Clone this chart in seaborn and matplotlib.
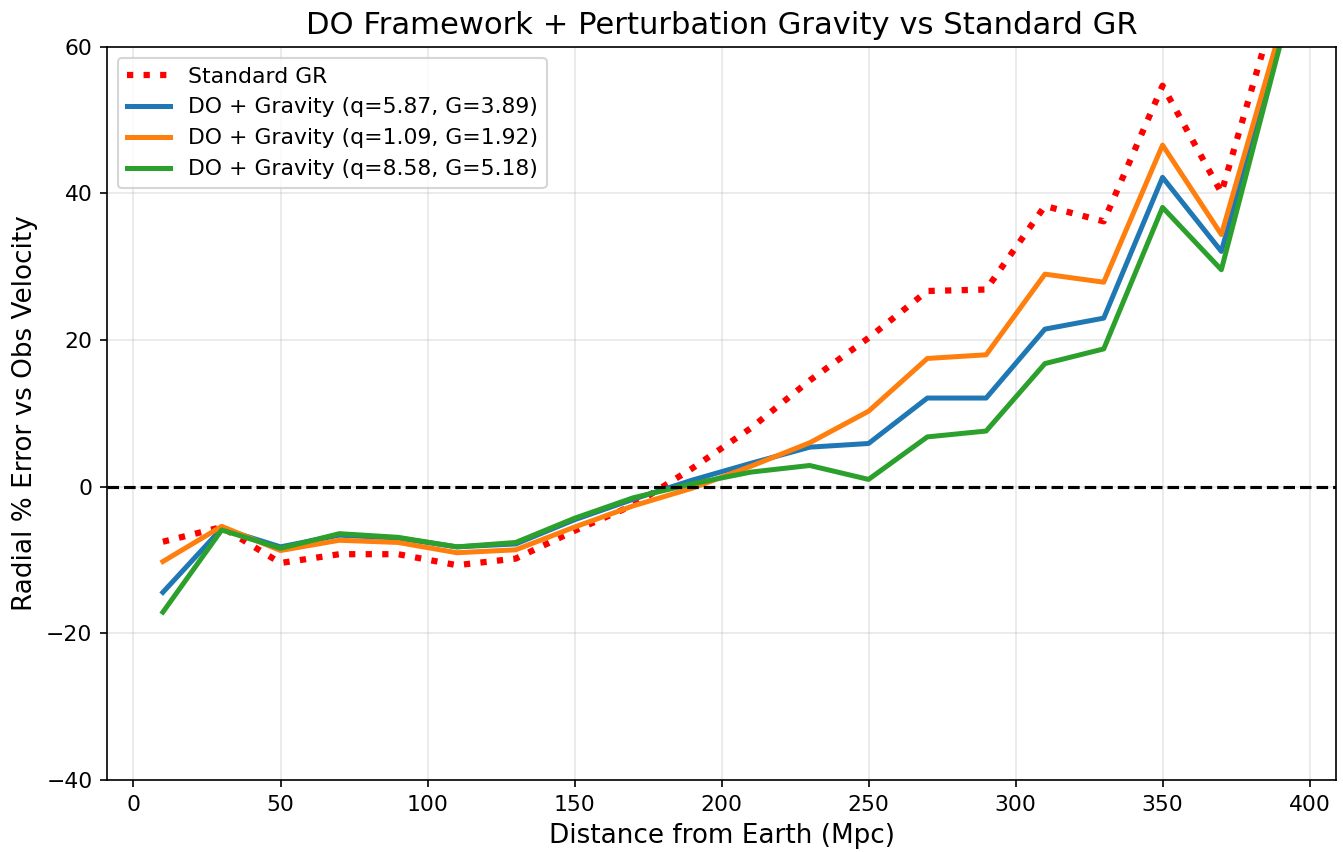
import seaborn as sns
import matplotlib.pyplot as plt
import numpy as np
import pandas as pd

distance = [10, 30, 50, 70, 90, 110, 130, 150, 170, 190,
            210, 230, 250, 270, 290, 310, 330, 350, 370, 390]

gr_err = [-7.5, -5.5, -10.4, -9.2, -9.2, -10.7, -9.8, -6.0, -2.5, 2.5,
          8.0, 14.5, 20.3, 26.7, 26.9, 38.3, 36.2, 54.7, 40.1, 67.5]
do_a = [-14.4, -5.7, -8.2, -6.6, -7.0, -8.2, -7.8, -4.5, -1.7, 0.9,
        3.2, 5.4, 5.9, 12.1, 12.1, 21.5, 23.0, 42.2, 32.1, 61.0]
do_b = [-10.2, -5.4, -8.7, -7.3, -7.6, -9.0, -8.6, -5.5, -2.6, -0.2,
        2.8, 6.0, 10.3, 17.5, 18.0, 29.0, 27.9, 46.6, 34.4, 62.2]
do_c = [-17.1, -5.9, -8.4, -6.4, -6.9, -8.2, -7.6, -4.3, -1.5, 0.4,
        2.0, 2.9, 1.0, 6.8, 7.6, 16.8, 18.8, 38.1, 29.6, 60.3]

labels = ["DO + Gravity (q=5.87, G=3.89)",
          "DO + Gravity (q=1.09, G=1.92)",
          "DO + Gravity (q=8.58, G=5.18)"]

df = pd.DataFrame({"dist": distance, "gr": gr_err,
                   "a": do_a, "b": do_b, "c": do_c})

plt.rcParams["xtick.labelsize"] = 10.5
plt.rcParams["ytick.labelsize"] = 10.5

fig, ax = plt.subplots(figsize=(1343 / 150, 852 / 150), dpi=150)
fig.subplots_adjust(left=0.0797, right=0.9948, top=0.945, bottom=0.0845)

sns.lineplot(data=df, x="dist", y="gr", ax=ax, color="red", linestyle=":",
             linewidth=3, label="Standard GR")
for col, lab, c in zip(["a", "b", "c"], labels, ["#1f77b4", "#ff7f0e", "#2ca02c"]):
    sns.lineplot(data=df, x="dist", y=col, ax=ax, color=c, linewidth=2.4, label=lab)

ax.axhline(0, color="black", linestyle="--", linewidth=1.5)
ax.set_ylim(-40, 60)
ax.set_xlabel("Distance from Earth (Mpc)", fontsize=12.6)
ax.set_ylabel("Radial % Error vs Obs Velocity", fontsize=12.6)
ax.set_title("DO Framework + Perturbation Gravity vs Standard GR", fontsize=14.7)
ax.grid(True, alpha=0.3)
ax.legend(loc="upper left", fontsize=10.5)

fig.savefig("out.png", dpi=150)
